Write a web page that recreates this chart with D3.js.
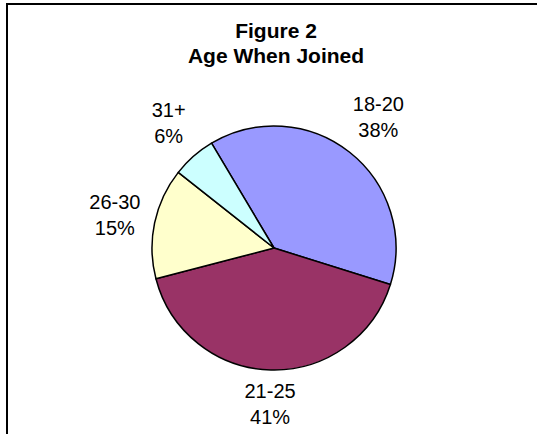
<!DOCTYPE html>
<html>
<head>
<meta charset="utf-8">
<script src="https://cdn.jsdelivr.net/npm/d3@7"></script>
<style>
  body { margin: 0; background: #fff; }
  svg text { font-family: Arial, "Liberation Sans", sans-serif; fill: #000; }
</style>
</head>
<body>
<svg id="chart"></svg>
<script>
// Chart data
const categories = ["18-20", "21-25", "26-30", "31+"];
const shares = [38.4, 41.1, 14.7, 5.8];
const sliceColors = ["#9999FF", "#993366", "#FFFFCC", "#CCFFFF"];
const titleLines = ["Figure 2", "Age When Joined"];

const width = 537;
const height = 434;

const svg = d3.select("#chart")
              .attr("width", width)
              .attr("height", height);

// chart frame (runs off the right and bottom edges)
svg.append("rect")
   .attr("x", 7)
   .attr("y", 4)
   .attr("width", width + 20)
   .attr("height", height + 20)
   .attr("fill", "#fff")
   .attr("stroke", "#000")
   .attr("stroke-width", 2);

// title
svg.append("text")
   .attr("x", 276)
   .attr("y", 38)
   .attr("text-anchor", "middle")
   .style("font-weight", "bold")
   .style("font-size", "21px")
   .selectAll("tspan")
   .data(titleLines)
   .enter().append("tspan")
   .attr("x", 276)
   .attr("dy", (d, i) => i === 0 ? 0 : 25)
   .text(d => d);

const cx = 274, cy = 248, radius = 122;
const total = d3.sum(shares);

// first slice starts a bit left of 12 o'clock
const pie = d3.pie()
              .sort(null)
              .value(d => d.value)
              .startAngle(-30.8 * Math.PI / 180)
              .endAngle((360 - 30.8) * Math.PI / 180);

const data = categories.map((c, i) => ({ name: c, value: shares[i], color: sliceColors[i] }));
const arcs = pie(data);

const arc = d3.arc().innerRadius(0).outerRadius(radius);

const g = svg.append("g").attr("transform", `translate(${cx},${cy})`);

g.selectAll("path")
 .data(arcs)
 .enter().append("path")
 .attr("d", arc)
 .attr("fill", d => d.data.color)
 .attr("stroke", "#000")
 .attr("stroke-width", 1.5)
 .attr("stroke-linejoin", "round");

const fmt = d3.format(".0%");
const lineGap = 26;

const labels = g.selectAll("text.lbl")
 .data(arcs)
 .enter().append("text")
 .attr("class", "lbl")
 .attr("text-anchor", "middle")
 .style("font-size", "20px");

labels.append("tspan")
      .attr("x", 0)
      .attr("dy", -6.5)
      .text(d => d.data.name);
labels.append("tspan")
      .attr("x", 0)
      .attr("dy", lineGap)
      .text(d => fmt(d.data.value / total));

// place each label box just outside the pie, pushed out along its mid angle
labels.attr("transform", function(d) {
  const a = (d.startAngle + d.endAngle) / 2;
  const w = d3.max(d3.select(this).selectAll("tspan").nodes(), n => n.getComputedTextLength());
  const h = 46;
  const gap = 11 + 10 * Math.abs(Math.sin(2 * a));
  const r = radius + gap;
  const x = Math.sin(a) * r + Math.sin(a) * w / 2;
  const y = -Math.cos(a) * r - Math.cos(a) * h / 2;
  return `translate(${x},${y})`;
});
</script>
</body>
</html>
